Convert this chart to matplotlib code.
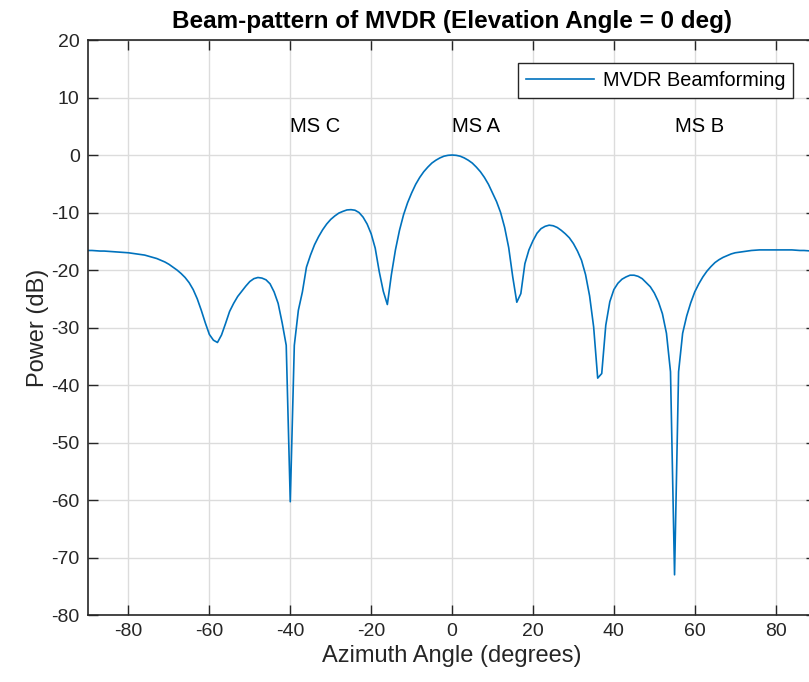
import numpy as np
import matplotlib
matplotlib.use('Agg')
import matplotlib.pyplot as plt

plt.rcParams['font.family'] = ['Liberation Sans', 'DejaVu Sans']
plt.rcParams['axes.unicode_minus'] = False

# azimuth angles (deg), 1 degree steps
azimuth = np.arange(-90, 91)

# power (dB), from -90 to 90
power_left = [
    -16.6, -16.6, -16.65, -16.7, -16.7, -16.75, -16.8, -16.85, -16.9, -16.95,   # -90..-81
    -17.0, -17.1, -17.2, -17.3, -17.4, -17.6, -17.8, -18.0, -18.3, -18.6,      # -80..-71
    -19.0, -19.5, -20.0, -20.6, -21.3, -22.2, -23.4, -25.0, -27.0, -29.2,      # -70..-61
    -31.2, -32.2, -32.6, -31.3, -29.3, -27.2, -25.8, -24.6, -23.7, -22.8,      # -60..-51
    -22.0, -21.5, -21.3, -21.4, -21.7, -22.4, -23.8, -25.8, -29.2, -33.1,      # -50..-41
    -60.3, -33.1, -27.0, -23.8, -19.5, -17.4, -15.6, -14.2, -13.0, -12.0,      # -40..-31
    -11.2, -10.6, -10.1, -9.8, -9.55, -9.5, -9.6, -10.0, -10.8, -12.0,         # -30..-21
    -13.7, -16.2, -20.3, -23.7, -26.0, -20.8, -16.5, -13.1, -10.4, -8.3,       # -20..-11
    -6.6, -5.1, -3.9, -2.9, -2.1, -1.4, -0.9, -0.5, -0.2, -0.05,               # -10..-1
]
power_centre = [0.0]
power_right = [
    -0.05, -0.2, -0.5, -0.9, -1.4, -2.1, -2.9, -3.9, -5.1, -6.6,               # 1..10
    -8.1, -10.0, -12.6, -16.1, -21.2, -25.6, -24.1, -18.9, -16.5, -14.9,       # 11..20
    -13.6, -12.8, -12.4, -12.2, -12.3, -12.6, -13.1, -13.7, -14.4, -15.4,      # 21..30
    -16.7, -18.3, -20.8, -24.5, -29.9, -38.8, -38.0, -29.6, -25.5, -23.4,      # 31..40
    -22.3, -21.6, -21.2, -20.9, -20.9, -21.1, -21.5, -22.2, -22.9, -24.0,      # 41..50
    -25.5, -27.6, -31.0, -37.7, -73.0, -37.7, -31.0, -28.0, -25.7, -23.8,      # 51..60
    -22.4, -21.2, -20.2, -19.4, -18.7, -18.2, -17.8, -17.5, -17.2, -17.0,      # 61..70
    -16.9, -16.8, -16.7, -16.6, -16.55, -16.5, -16.5, -16.5, -16.5, -16.5,     # 71..80
    -16.5, -16.5, -16.5, -16.5, -16.55, -16.6, -16.6, -16.65, -16.7, -16.7,    # 81..90
]
power_db = np.array(power_left + power_centre + power_right)

# annotation labels: (x, y, text)
ms_labels = [(-40, 5, 'MS C'), (0, 5, 'MS A'), (55, 5, 'MS B')]

dark = '#262626'
fig = plt.figure(figsize=(8.09, 6.82), dpi=100)
# axes run past the right edge of the figure, as in the reference
ax = fig.add_axes([0.1088, 0.0982, 0.900, 0.8431])

ax.plot(azimuth, power_db, color='#0072BD', lw=1.2, label='MVDR Beamforming')

for x, y, s in ms_labels:
    ax.text(x, y, s, fontsize=14.5, color='black', ha='left', va='center')

ax.set_xlim(-90, 90)
ax.set_ylim(-80, 20)
ax.set_xticks(np.arange(-80, 81, 20))
ax.set_yticks(np.arange(-80, 21, 10))
ax.grid(True, color='#dcdcdc', lw=1.0)
ax.set_axisbelow(True)
ax.tick_params(direction='in', length=7, width=1, top=True, right=True,
               labelsize=14, colors=dark, pad=6)
for sp in ax.spines.values():
    sp.set_color(dark)
    sp.set_linewidth(1.2)

ax.set_xlabel('Azimuth Angle (degrees)', fontsize=17, color=dark, labelpad=3)
ax.set_ylabel('Power (dB)', fontsize=17, color=dark, labelpad=2)
ax.set_title('Beam-pattern of MVDR (Elevation Angle = 0 deg)', fontsize=17.5,
             fontweight='bold', color='black', pad=9)

leg = ax.legend(loc='upper right', bbox_to_anchor=(0.982, 0.978), fontsize=14.3,
                fancybox=False, edgecolor=dark, framealpha=1,
                handlelength=3.4, handletextpad=0.45, borderpad=0.4,
                borderaxespad=0.5)
leg.get_frame().set_linewidth(1.0)

fig.savefig('out.png', dpi=100)
